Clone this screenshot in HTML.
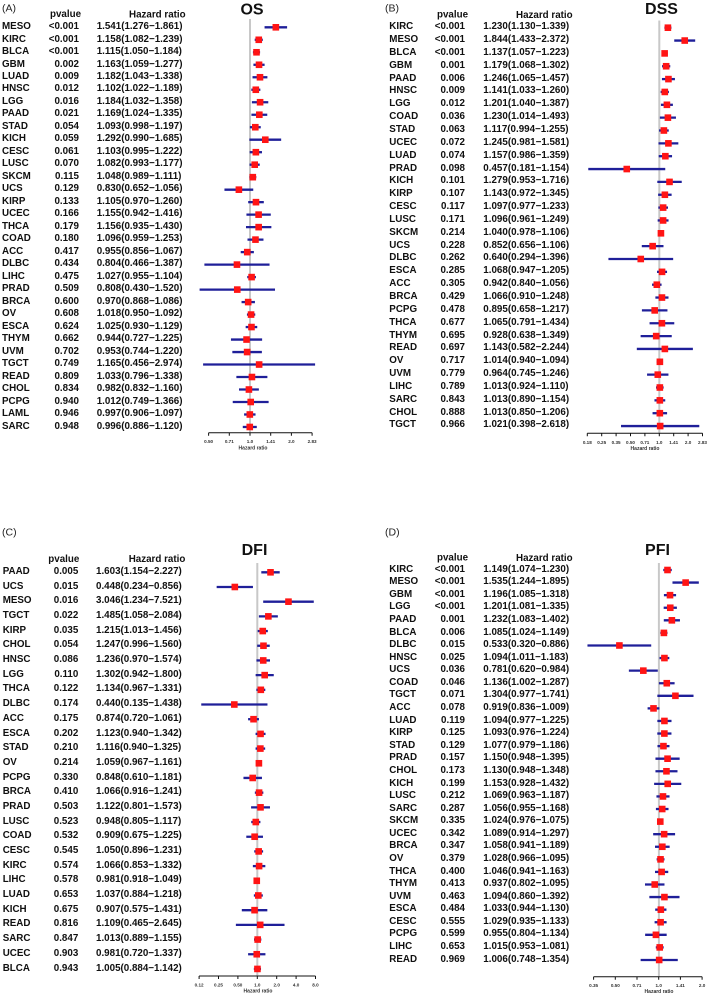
<!DOCTYPE html>
<html><head><meta charset="utf-8">
<style>
html,body{margin:0;padding:0;background:#fff;}
#wrap{position:relative;width:709px;height:995px;overflow:hidden;font-family:"Liberation Sans",Arial,sans-serif;background:#fff;}
svg{position:absolute;left:0;top:0;}
.col{position:absolute;font-weight:bold;font-size:9.8px;color:#101010;white-space:nowrap;}
.r{text-align:right;}
</style></head><body><div id="wrap">
<svg id="s" width="709" height="995" viewBox="0 0 709 995" xmlns="http://www.w3.org/2000/svg" font-family="Liberation Sans, Arial, sans-serif">
  <text x="2" y="11.7" font-size="10.5" fill="#222">(A)</text>
  <text x="385" y="11.7" font-size="10.5" fill="#222">(B)</text>
  <text x="2" y="535.5" font-size="10.5" fill="#222">(C)</text>
  <text x="385" y="535.5" font-size="10.5" fill="#222">(D)</text>
  <text x="252" y="14.3" font-size="16" font-weight="bold" text-anchor="middle" fill="#111">OS</text>
  <text x="661.5" y="14" font-size="16" font-weight="bold" text-anchor="middle" fill="#111">DSS</text>
  <text x="254.5" y="555" font-size="16" font-weight="bold" text-anchor="middle" fill="#111">DFI</text>
  <text x="657.5" y="555" font-size="16" font-weight="bold" text-anchor="middle" fill="#111">PFI</text>
  <g font-size="9.8" font-weight="bold" fill="#101010">
    <text x="50" y="17">pvalue</text><text x="129" y="17.3">Hazard ratio</text>
    <text x="437" y="17.6">pvalue</text><text x="516" y="17.8">Hazard ratio</text>
    <text x="48.3" y="561.8">pvalue</text><text x="128.7" y="562.2">Hazard ratio</text>
    <text x="437" y="560.6">pvalue</text><text x="516" y="561">Hazard ratio</text>
  </g>
  <g stroke="#c8c8c8" stroke-width="2">
    <line x1="250" y1="19" x2="250" y2="432.7"/>
    <line x1="659.3" y1="20.5" x2="659.3" y2="433.3"/>
    <line x1="257.3" y1="563" x2="257.3" y2="976"/>
    <line x1="658.9" y1="563" x2="658.9" y2="976.7"/>
  </g>
  <g stroke="#111" stroke-width="1" fill="none">
    <path d="M208.6 432.7H312.1M208.6 432.7v3M229.3 432.7v3M250 432.7v3M270.7 432.7v3M291.4 432.7v3M312.1 432.7v3"/>
    <path d="M587.3 433.3H702.5M587.3 433.3v3M601.7 433.3v3M616.1 433.3v3M630.5 433.3v3M644.9 433.3v3M659.3 433.3v3M673.7 433.3v3M688.1 433.3v3M702.5 433.3v3"/>
    <path d="M199.1 976H315.5M199.1 976v3M218.5 976v3M237.9 976v3M257.3 976v3M276.7 976v3M296.1 976v3M315.5 976v3"/>
    <path d="M593.6 976.7H702.1M593.6 976.7v3M615.3 976.7v3M637 976.7v3M658.7 976.7v3M680.4 976.7v3M702.1 976.7v3"/>
  </g>
  <g font-size="4.6" font-weight="bold" fill="#333" text-anchor="middle">
    <text x="208.6" y="443.2">0.50</text><text x="229.3" y="443.2">0.71</text><text x="250" y="443.2">1.0</text><text x="270.7" y="443.2">1.41</text><text x="291.4" y="443.2">2.0</text><text x="312.1" y="443.2">2.83</text>
    <text x="587.3" y="443.8">0.18</text><text x="601.7" y="443.8">0.25</text><text x="616.1" y="443.8">0.35</text><text x="630.5" y="443.8">0.50</text><text x="644.9" y="443.8">0.71</text><text x="659.3" y="443.8">1.0</text><text x="673.7" y="443.8">1.41</text><text x="688.1" y="443.8">2.0</text><text x="702.5" y="443.8">2.83</text>
    <text x="199.1" y="986.5">0.12</text><text x="218.5" y="986.5">0.25</text><text x="237.9" y="986.5">0.50</text><text x="257.3" y="986.5">1.0</text><text x="276.7" y="986.5">2.0</text><text x="296.1" y="986.5">4.0</text><text x="315.5" y="986.5">8.0</text>
    <text x="593.6" y="987.2">0.35</text><text x="615.3" y="987.2">0.50</text><text x="637" y="987.2">0.71</text><text x="658.7" y="987.2">1.0</text><text x="680.4" y="987.2">1.41</text><text x="702.1" y="987.2">2.0</text>
  </g>
  <g font-size="5" font-weight="bold" fill="#333" text-anchor="middle">
    <text x="253" y="449.3">Hazard ratio</text>
    <text x="645" y="449.8">Hazard ratio</text>
    <text x="258" y="992.3">Hazard ratio</text>
    <text x="659" y="993">Hazard ratio</text>
  </g>
  <g id="marks"></g>
</svg>

<div class="col" style="left:2px;top:21.055px;line-height:12.49px">MESO<br>KIRC<br>BLCA<br>GBM<br>LUAD<br>HNSC<br>LGG<br>PAAD<br>STAD<br>KICH<br>CESC<br>LUSC<br>SKCM<br>UCS<br>KIRP<br>UCEC<br>THCA<br>COAD<br>ACC<br>DLBC<br>LIHC<br>PRAD<br>BRCA<br>OV<br>ESCA<br>THYM<br>UVM<br>TGCT<br>READ<br>CHOL<br>PCPG<br>LAML<br>SARC</div>
<div class="col r" style="left:30px;width:49px;top:21.055px;line-height:12.49px">&lt;0.001<br>&lt;0.001<br>&lt;0.001<br>0.002<br>0.009<br>0.012<br>0.016<br>0.021<br>0.054<br>0.059<br>0.061<br>0.070<br>0.115<br>0.129<br>0.133<br>0.166<br>0.179<br>0.180<br>0.417<br>0.434<br>0.475<br>0.509<br>0.600<br>0.608<br>0.624<br>0.662<br>0.702<br>0.749<br>0.809<br>0.834<br>0.940<br>0.946<br>0.948</div>
<div class="col" id="aH" style="left:96.7px;top:21.055px;line-height:12.49px">1.541(1.276−1.861)<br>1.158(1.082−1.239)<br>1.115(1.050−1.184)<br>1.163(1.059−1.277)<br>1.182(1.043−1.338)<br>1.102(1.022−1.189)<br>1.184(1.032−1.358)<br>1.169(1.024−1.335)<br>1.093(0.998−1.197)<br>1.292(0.990−1.685)<br>1.103(0.995−1.222)<br>1.082(0.993−1.177)<br>1.048(0.989−1.111)<br>0.830(0.652−1.056)<br>1.105(0.970−1.260)<br>1.155(0.942−1.416)<br>1.156(0.935−1.430)<br>1.096(0.959−1.253)<br>0.955(0.856−1.067)<br>0.804(0.466−1.387)<br>1.027(0.955−1.104)<br>0.808(0.430−1.520)<br>0.970(0.868−1.086)<br>1.018(0.950−1.092)<br>1.025(0.930−1.129)<br>0.944(0.727−1.225)<br>0.953(0.744−1.220)<br>1.165(0.456−2.974)<br>1.033(0.796−1.338)<br>0.982(0.832−1.160)<br>1.012(0.749−1.366)<br>0.997(0.906−1.097)<br>0.996(0.886−1.120)</div>

<div class="col" style="left:389.3px;top:21.275px;line-height:12.85px">KIRC<br>MESO<br>BLCA<br>GBM<br>PAAD<br>HNSC<br>LGG<br>COAD<br>STAD<br>UCEC<br>LUAD<br>PRAD<br>KICH<br>KIRP<br>CESC<br>LUSC<br>SKCM<br>UCS<br>DLBC<br>ESCA<br>ACC<br>BRCA<br>PCPG<br>THCA<br>THYM<br>READ<br>OV<br>UVM<br>LIHC<br>SARC<br>CHOL<br>TGCT</div>
<div class="col r" style="left:416px;width:49px;top:21.275px;line-height:12.85px">&lt;0.001<br>&lt;0.001<br>&lt;0.001<br>0.001<br>0.006<br>0.009<br>0.012<br>0.036<br>0.063<br>0.072<br>0.074<br>0.098<br>0.101<br>0.107<br>0.117<br>0.171<br>0.214<br>0.228<br>0.262<br>0.285<br>0.305<br>0.429<br>0.478<br>0.677<br>0.695<br>0.697<br>0.717<br>0.779<br>0.789<br>0.843<br>0.888<br>0.966</div>
<div class="col" id="bH" style="left:483.3px;top:21.275px;line-height:12.85px">1.230(1.130−1.339)<br>1.844(1.433−2.372)<br>1.137(1.057−1.223)<br>1.179(1.068−1.302)<br>1.246(1.065−1.457)<br>1.141(1.033−1.260)<br>1.201(1.040−1.387)<br>1.230(1.014−1.493)<br>1.117(0.994−1.255)<br>1.245(0.981−1.581)<br>1.157(0.986−1.359)<br>0.457(0.181−1.154)<br>1.279(0.953−1.716)<br>1.143(0.972−1.345)<br>1.097(0.977−1.233)<br>1.096(0.961−1.249)<br>1.040(0.978−1.106)<br>0.852(0.656−1.106)<br>0.640(0.294−1.396)<br>1.068(0.947−1.205)<br>0.942(0.840−1.056)<br>1.066(0.910−1.248)<br>0.895(0.658−1.217)<br>1.065(0.791−1.434)<br>0.928(0.638−1.349)<br>1.143(0.582−2.244)<br>1.014(0.940−1.094)<br>0.964(0.745−1.246)<br>1.013(0.924−1.110)<br>1.013(0.890−1.154)<br>1.013(0.850−1.206)<br>1.021(0.398−2.618)</div>

<div class="col" style="left:2.7px;top:564.955px;line-height:14.69px">PAAD<br>UCS<br>MESO<br>TGCT<br>KIRP<br>CHOL<br>HNSC<br>LGG<br>THCA<br>DLBC<br>ACC<br>ESCA<br>STAD<br>OV<br>PCPG<br>BRCA<br>PRAD<br>LUSC<br>COAD<br>CESC<br>KIRC<br>LIHC<br>LUAD<br>KICH<br>READ<br>SARC<br>UCEC<br>BLCA</div>
<div class="col r" style="left:29.3px;width:49px;top:564.955px;line-height:14.69px">0.005<br>0.015<br>0.016<br>0.022<br>0.035<br>0.054<br>0.086<br>0.110<br>0.122<br>0.174<br>0.175<br>0.202<br>0.210<br>0.214<br>0.330<br>0.410<br>0.503<br>0.523<br>0.532<br>0.545<br>0.574<br>0.578<br>0.653<br>0.675<br>0.816<br>0.847<br>0.903<br>0.943</div>
<div class="col" id="cH" style="left:96px;top:564.955px;line-height:14.69px">1.603(1.154−2.227)<br>0.448(0.234−0.856)<br>3.046(1.234−7.521)<br>1.485(1.058−2.084)<br>1.215(1.013−1.456)<br>1.247(0.996−1.560)<br>1.236(0.970−1.574)<br>1.302(0.942−1.800)<br>1.134(0.967−1.331)<br>0.440(0.135−1.438)<br>0.874(0.720−1.061)<br>1.123(0.940−1.342)<br>1.116(0.940−1.325)<br>1.059(0.967−1.161)<br>0.848(0.610−1.181)<br>1.066(0.916−1.241)<br>1.122(0.801−1.573)<br>0.948(0.805−1.117)<br>0.909(0.675−1.225)<br>1.050(0.896−1.231)<br>1.066(0.853−1.332)<br>0.981(0.918−1.049)<br>1.037(0.884−1.218)<br>0.907(0.575−1.431)<br>1.109(0.465−2.645)<br>1.013(0.889−1.155)<br>0.981(0.720−1.337)<br>1.005(0.884−1.142)</div>

<div class="col" style="left:389.3px;top:563.71px;line-height:12.58px">KIRC<br>MESO<br>GBM<br>LGG<br>PAAD<br>BLCA<br>DLBC<br>HNSC<br>UCS<br>COAD<br>TGCT<br>ACC<br>LUAD<br>KIRP<br>STAD<br>PRAD<br>CHOL<br>KICH<br>LUSC<br>SARC<br>SKCM<br>UCEC<br>BRCA<br>OV<br>THCA<br>THYM<br>UVM<br>ESCA<br>CESC<br>PCPG<br>LIHC<br>READ</div>
<div class="col r" style="left:416px;width:49px;top:563.71px;line-height:12.58px">&lt;0.001<br>&lt;0.001<br>&lt;0.001<br>&lt;0.001<br>0.001<br>0.006<br>0.015<br>0.025<br>0.036<br>0.046<br>0.071<br>0.078<br>0.119<br>0.125<br>0.129<br>0.157<br>0.173<br>0.199<br>0.212<br>0.287<br>0.335<br>0.342<br>0.347<br>0.379<br>0.400<br>0.413<br>0.463<br>0.484<br>0.555<br>0.599<br>0.653<br>0.969</div>
<div class="col" id="dH" style="left:483.3px;top:563.71px;line-height:12.58px">1.149(1.074−1.230)<br>1.535(1.244−1.895)<br>1.196(1.085−1.318)<br>1.201(1.081−1.335)<br>1.232(1.083−1.402)<br>1.085(1.024−1.149)<br>0.533(0.320−0.886)<br>1.094(1.011−1.183)<br>0.781(0.620−0.984)<br>1.136(1.002−1.287)<br>1.304(0.977−1.741)<br>0.919(0.836−1.009)<br>1.094(0.977−1.225)<br>1.093(0.976−1.224)<br>1.077(0.979−1.186)<br>1.150(0.948−1.395)<br>1.130(0.948−1.348)<br>1.153(0.928−1.432)<br>1.069(0.963−1.187)<br>1.056(0.955−1.168)<br>1.024(0.976−1.075)<br>1.089(0.914−1.297)<br>1.058(0.941−1.189)<br>1.028(0.966−1.095)<br>1.046(0.941−1.163)<br>0.937(0.802−1.095)<br>1.094(0.860−1.392)<br>1.033(0.944−1.130)<br>1.029(0.935−1.133)<br>0.955(0.804−1.134)<br>1.015(0.953−1.081)<br>1.006(0.748−1.354)</div>
</div>
<script>
(function(){
  var NS='http://www.w3.org/2000/svg';
  var g=document.getElementById('marks');
  var panels=[
    {id:'aH',cx:250,u:41.4,y0:27.3,dy:12.49},
    {id:'bH',cx:659.3,u:28.8,y0:27.7,dy:12.85},
    {id:'cH',cx:257.3,u:19.4,y0:572.3,dy:14.69},
    {id:'dH',cx:658.8,u:43.4,y0:570,dy:12.58}
  ];
  panels.forEach(function(p){
    var el=document.getElementById(p.id);
    var lines=el.innerHTML.split(/<br\s*\/?>/i);
    lines.forEach(function(t,i){
      var m=t.match(/([\d.]+)\(([\d.]+)[^\d.]([\d.]+)\)/);
      if(!m) return;
      var y=p.y0+i*p.dy;
      var X=function(v){return p.cx+Math.log(parseFloat(v))/Math.LN2*p.u;};
      var l=document.createElementNS(NS,'line');
      l.setAttribute('x1',X(m[2]));l.setAttribute('x2',X(m[3]));
      l.setAttribute('y1',y);l.setAttribute('y2',y);
      l.setAttribute('stroke','#1f1f99');l.setAttribute('stroke-width','2.3');
      g.appendChild(l);
      var r=document.createElementNS(NS,'rect');
      var s=6.6;
      r.setAttribute('x',X(m[1])-s/2);r.setAttribute('y',y-s/2);
      r.setAttribute('width',s);r.setAttribute('height',s);
      r.setAttribute('fill','#ff1414');
      g.appendChild(r);
    });
  });
})();
</script>
</body></html>
